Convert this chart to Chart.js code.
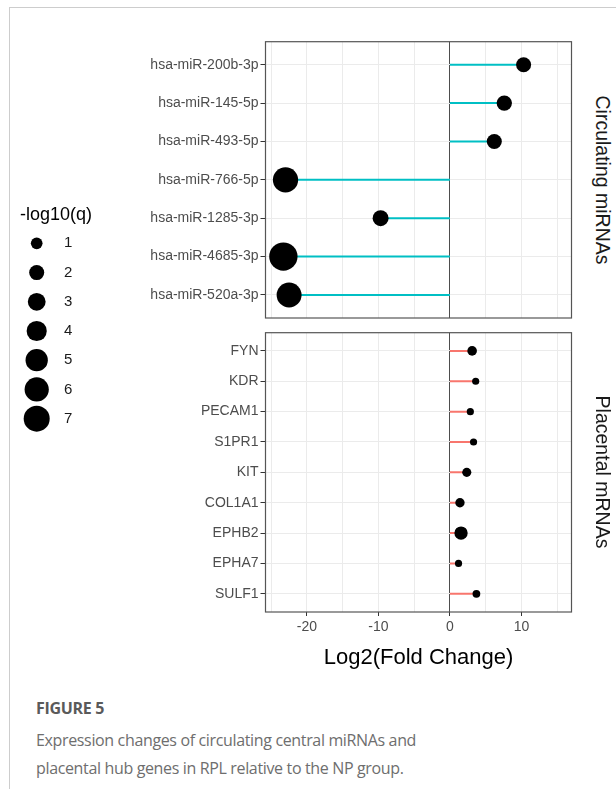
<!DOCTYPE html>
<html>
<head>
<meta charset="utf-8">
<script src="https://cdn.jsdelivr.net/npm/chart.js@4/dist/chart.umd.min.js"></script>
<style>
  body { margin: 0; background: #fff; }
  #page { position: relative; width: 616px; height: 789px; overflow: hidden; font-family: "Liberation Sans", Arial, sans-serif; }
  .frame { position: absolute; left: 9px; top: 7px; right: -2px; bottom: -2px; border-top: 1px solid #cdcdcd; border-left: 1px solid #cdcdcd; }
  canvas { position: absolute; }
  .strip { position: absolute; writing-mode: vertical-rl; transform: translate(-50%, -50%); font-size: 19.5px; color: #1a1a1a; white-space: nowrap; }
  .fig { position: absolute; left: 36px; top: 697px; font-family: "Open Sans", sans-serif; font-weight: 700; font-size: 16px; letter-spacing: -0.3px; color: #5a5a5a; }
  .cap { position: absolute; left: 36px; top: 726px; width: 570px; font-family: "Open Sans", sans-serif; font-size: 16px; letter-spacing: -0.35px; line-height: 28px; color: #6e6e6e; }
</style>
</head>
<body>
<div id="page">
  <div class="frame"></div>
  <canvas id="legend" width="130" height="265" style="left:0;top:195px"></canvas>
  <canvas id="top" width="450" height="300" style="left:130px;top:30px"></canvas>
  <canvas id="bottom" width="450" height="360" style="left:130px;top:320px"></canvas>
  <div class="strip" style="left:602px;top:180px">Circulating miRNAs</div>
  <div class="strip" style="left:602px;top:472px">Placental mRNAs</div>
  <div class="fig">FIGURE 5</div>
  <div class="cap">Expression changes of circulating central miRNAs and<br>placental hub genes in RPL relative to the NP group.</div>
</div>
<script>
// circulating miRNAs (top panel, listed top to bottom)
const mirnaLabels = ['hsa-miR-200b-3p', 'hsa-miR-145-5p', 'hsa-miR-493-5p', 'hsa-miR-766-5p', 'hsa-miR-1285-3p', 'hsa-miR-4685-3p', 'hsa-miR-520a-3p'];
const mirnaFC = [10.3, 7.6, 6.2, -23.0, -9.7, -23.3, -22.5];
const mirnaQ = [2.0, 2.1, 2.0, 6.6, 2.3, 8.4, 6.4];

// placental mRNAs (bottom panel)
const mrnaLabels = ['FYN', 'KDR', 'PECAM1', 'S1PR1', 'KIT', 'COL1A1', 'EPHB2', 'EPHA7', 'SULF1'];
const mrnaFC = [3.1, 3.6, 2.85, 3.3, 2.35, 1.4, 1.55, 1.2, 3.7];
const mrnaQ = [0.5, 0.05, 0.05, 0.05, 0.4, 0.45, 1.45, 0.05, 0.15];

const legendQ = [1, 2, 3, 4, 5, 6, 7];
const xGrid = [-25, -20, -15, -10, -5, 0, 5, 10, 15];
const xLabelled = [-20, -10, 0, 10];

// point size: area grows linearly with -log10(q)
const dotR = q => Math.sqrt(11.75 + 22.5 * q);

Chart.defaults.font.family = '"Liberation Sans", Arial, sans-serif';
Chart.defaults.font.size = 14;

const panelBox = {
  id: 'panelBox',
  afterDraw(chart) {
    const { ctx, chartArea: a } = chart;
    ctx.save();
    ctx.strokeStyle = '#555';
    ctx.lineWidth = 1.2;
    ctx.strokeRect(a.left, a.top, a.right - a.left, a.bottom - a.top);
    ctx.restore();
  }
};

function panel(id, labels, fc, q, lineColor, bottom) {
  const dots = {
    data: fc.map((v, i) => ({ x: v, y: i })),
    pointRadius: q.map(dotR),
    pointBackgroundColor: '#000',
    pointBorderWidth: 0,
    order: 0
  };
  const segs = fc.map((v, i) => ({
    data: [{ x: 0, y: i }, { x: v, y: i }],
    showLine: true,
    borderColor: lineColor,
    borderWidth: 2,
    pointRadius: 0,
    order: 1
  }));

  new Chart(document.getElementById(id), {
    type: 'scatter',
    data: { datasets: [dots, ...segs] },
    options: {
      responsive: false,
      animation: false,
      events: [],
      layout: { autoPadding: false, padding: { top: bottom ? 12.7 : 11.7, right: 8.5, left: 0, bottom: 0 } },
      plugins: { legend: { display: false }, tooltip: { enabled: false } },
      scales: {
        x: {
          type: 'linear', min: -25.8, max: 17,
          afterBuildTicks: a => { a.ticks = xGrid.map(v => ({ value: v })); },
          afterFit: a => { a.height = bottom ? 68 : 12; },
          border: { display: false },
          grid: {
            color: c => c.tick && c.tick.value === 0 ? '#4d4d4d' : '#ebebeb',
            lineWidth: 1,
            drawTicks: bottom,
            tickLength: 4,
            tickColor: c => c.tick && xLabelled.includes(c.tick.value) ? '#333' : 'rgba(0,0,0,0)'
          },
          ticks: {
            display: bottom, autoSkip: false, maxRotation: 0, padding: 3, color: '#4d4d4d',
            callback: v => xLabelled.includes(v) ? String(v) : ''
          },
          title: {
            display: bottom, text: 'Log2(Fold Change)', color: '#000',
            font: { size: 22 }, padding: { top: 0, bottom: 9 }
          }
        },
        y: {
          type: 'linear', reverse: true, min: -0.6, max: labels.length - 0.4,
          afterBuildTicks: a => { a.ticks = labels.map((l, i) => ({ value: i })); },
          afterFit: a => { a.width = 135.5; },
          border: { display: false },
          grid: { color: '#ebebeb', tickLength: 5, tickColor: '#333' },
          ticks: { autoSkip: false, padding: 2, color: '#4d4d4d', callback: v => labels[v] }
        }
      }
    },
    plugins: [panelBox]
  });
}

panel('top', mirnaLabels, mirnaFC, mirnaQ, '#00BFC4', false);
panel('bottom', mrnaLabels, mrnaFC, mrnaQ, '#F8766D', true);

// size legend
new Chart(document.getElementById('legend'), {
  type: 'scatter',
  data: {
    datasets: [{
      data: legendQ.map(v => ({ x: 0, y: v })),
      pointRadius: legendQ.map(dotR),
      pointBackgroundColor: '#000',
      pointBorderWidth: 0
    }]
  },
  options: {
    responsive: false,
    animation: false,
    events: [],
    layout: { autoPadding: false, padding: { left: 20, top: 0, right: 0, bottom: 23.8 } },
    plugins: {
      legend: { display: false },
      tooltip: { enabled: false },
      title: {
        display: true, text: '-log10(q)', align: 'start', color: '#000',
        font: { size: 18, weight: 'normal' }, padding: { top: 9.2, bottom: 0 }
      }
    },
    scales: {
      x: { display: false, min: -1, max: 1 },
      y: {
        position: 'right', reverse: true, min: 0.4, max: 7.6,
        afterBuildTicks: a => { a.ticks = legendQ.map(v => ({ value: v })); },
        afterFit: a => { a.width = 130 - 53.4; },
        grid: { display: false, drawTicks: false },
        border: { display: false },
        ticks: { padding: 10.6, color: '#1a1a1a', font: { size: 15 } }
      }
    }
  }
});
</script>
</body>
</html>
